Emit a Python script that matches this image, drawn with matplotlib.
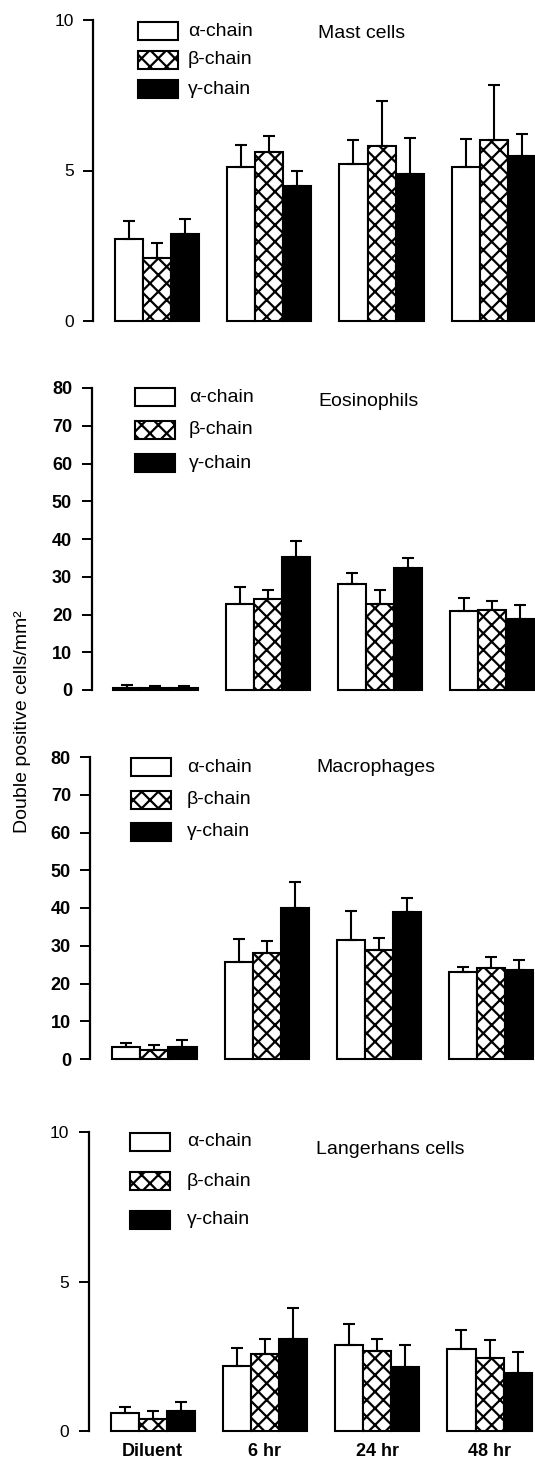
import matplotlib
matplotlib.use('Agg')
import matplotlib.pyplot as plt
import matplotlib.patches as mpatches
import numpy as np

plt.rcParams['font.family'] = ['Liberation Sans', 'DejaVu Sans']
plt.rcParams['hatch.linewidth'] = 1.6

groups = ['Diluent', '6 hr', '24 hr', '48 hr']
chains = ['\u03b1-chain', '\u03b2-chain', '\u03b3-chain']

# mean and upper error (SEM) per chain
mast_mean = [[2.71, 5.13, 5.20, 5.12],
             [2.08, 5.61, 5.80, 6.01],
             [2.88, 4.47, 4.87, 5.49]]
mast_err = [[0.61, 0.72, 0.82, 0.92],
            [0.50, 0.54, 1.51, 1.82],
            [0.51, 0.52, 1.21, 0.71]]

eos_mean = [[0.5, 22.9, 28.2, 21.0],
            [0.4, 24.1, 22.9, 21.3],
            [0.4, 35.3, 32.2, 18.9]]
eos_err = [[0.7, 4.4, 2.8, 3.5],
           [0.7, 2.4, 3.5, 2.4],
           [0.6, 4.2, 2.7, 3.7]]

mac_mean = [[3.2, 25.8, 31.5, 23.0],
            [2.4, 28.1, 28.8, 24.0],
            [3.2, 40.1, 38.9, 23.5]]
mac_err = [[1.1, 6.1, 7.7, 1.3],
           [1.2, 3.1, 3.2, 2.9],
           [1.8, 6.8, 3.8, 2.8]]

lc_mean = [[0.60, 2.19, 2.87, 2.75],
           [0.41, 2.58, 2.66, 2.44],
           [0.66, 3.07, 2.14, 1.93]]
lc_err = [[0.19, 0.60, 0.70, 0.62],
          [0.26, 0.51, 0.41, 0.62],
          [0.31, 1.03, 0.73, 0.70]]

W, H = 535, 1460
UNIT = 28.07  # px per bar width

STYLES = [dict(facecolor='white', hatch=None),
          dict(facecolor='white', hatch='xx'),
          dict(facecolor='black', hatch=None)]

# (title, means, errs, ymax, yticks, axis left, top px, zero px, key rows, key x, text x, title x, title y, bold ticks)
panels = [
    ('Mast cells', mast_mean, mast_err, 10, [0, 5, 10], 93, 20, 321, [31, 60, 89], 138, 188, 318, 33, False),
    ('Eosinophils', eos_mean, eos_err, 80, range(0, 81, 10), 91.5, 388, 690, [397, 430, 463], 135, 189, 318, 401, True),
    ('Macrophages', mac_mean, mac_err, 80, range(0, 81, 10), 90.4, 757, 1059, [767, 800, 832], 131, 187, 316, 768, True),
    ('Langerhans cells', lc_mean, lc_err, 10, [0, 5, 10], 88.7, 1132, 1431, [1142, 1181, 1220], 130, 187, 316, 1150, False),
]

fig = plt.figure(figsize=(5.35, 14.6), dpi=100)

x = np.arange(len(groups)) * 4

for k, (title, means, errs, ymax, yticks, L, top, zero, rows, kx, tx, ttx, tty, bold) in enumerate(panels):
    ax = fig.add_axes([L / W, 1 - zero / H, (W - L) / W, (zero - top) / H])
    xl = -1.28
    ax.set_xlim(xl, xl + (W - L) / UNIT)
    ax.set_ylim(0, ymax)

    for i in range(3):
        ax.bar(x + i, means[i], width=1, edgecolor='black', linewidth=1.5,
               clip_on=False, zorder=2, **STYLES[i])
        ax.errorbar(x + i, means[i], yerr=[np.zeros(4), errs[i]], fmt='none',
                    ecolor='black', elinewidth=1.5, capsize=4.5, capthick=1.5,
                    zorder=3, clip_on=False)

    for s in ['top', 'right', 'bottom']:
        ax.spines[s].set_visible(False)
    ax.spines['left'].set_linewidth(1.6)
    ax.set_yticks(list(yticks))
    ax.tick_params(axis='y', direction='out', length=7, width=1.4, pad=7,
                   labelsize=13 if bold else 12.5)
    if bold:
        for t in ax.get_yticklabels():
            t.set_fontweight('bold')

    if k == 3:
        ax.set_xticks(x + 1)
        ax.set_xticklabels(groups, fontsize=13, fontweight='bold')
        ax.tick_params(axis='x', length=0, pad=9)
    else:
        ax.set_xticks([])

    # key
    for i, yc in enumerate(rows):
        r = mpatches.Rectangle((kx / W, 1 - (yc + 9) / H), 40 / W, 18 / H,
                               transform=fig.transFigure, edgecolor='black',
                               linewidth=1.5, **STYLES[i])
        fig.add_artist(r)
        fig.text(tx / W, 1 - yc / H, chains[i], fontsize=14, va='center', ha='left')
    fig.text(ttx / W, 1 - tty / H, title, fontsize=14, va='center', ha='left')

fig.text(23 / W, 1 - 722 / H, 'Double positive cells/mm\u00b2', rotation=90,
         fontsize=14, va='center', ha='center')

fig.savefig('out.png', dpi=100)
